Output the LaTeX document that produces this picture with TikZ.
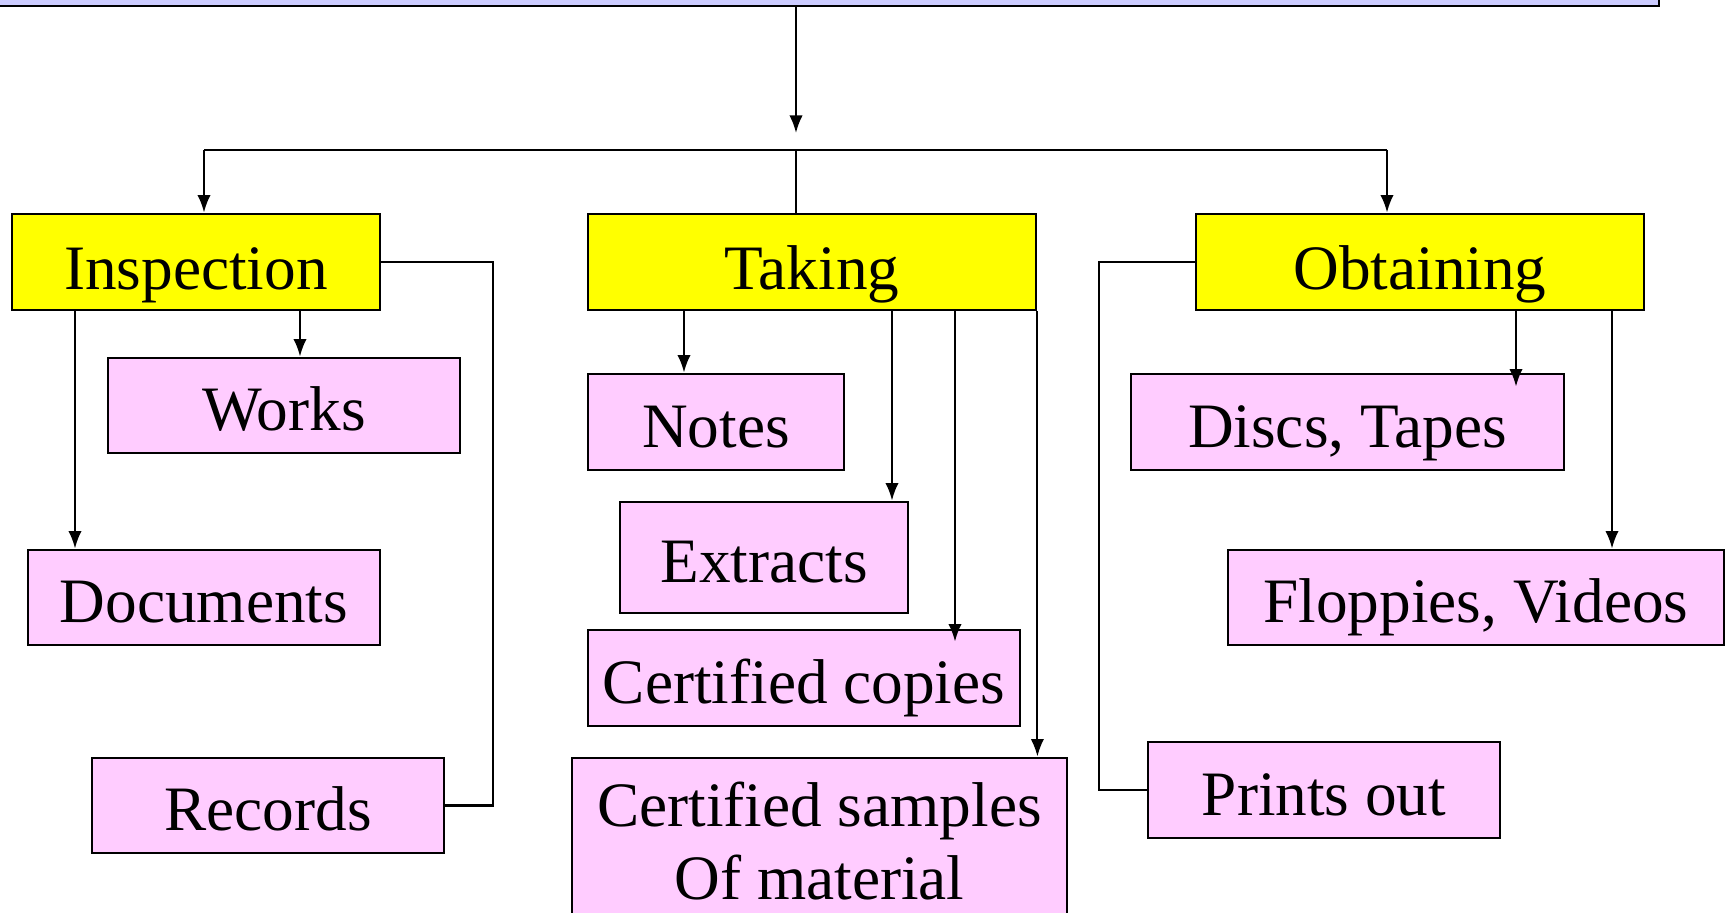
\documentclass[tikz,border=0pt]{standalone}
\usepackage{fontspec}
\setmainfont{Liberation Serif}
\usepackage{xcolor}
\usepackage{tikz}
\usetikzlibrary{arrows.meta, positioning, calc}
\definecolor{headblue}{RGB}{204,204,255}
\definecolor{modeyellow}{RGB}{255,255,0}
\definecolor{itempink}{RGB}{255,204,255}

\begin{document}
\begin{tikzpicture}[
  font=\fontsize{18}{21}\selectfont,
  box/.style={rectangle, draw=black, line width=0.8pt, inner sep=0pt, minimum height=0.96cm},
  mode/.style={box, fill=modeyellow, minimum width=4.48cm, text height=15.4pt, text depth=0pt},
  plate/.style={box, fill=itempink},
  item/.style={plate, text height=14.5pt, text depth=0pt},
  link/.style={line width=0.6pt},
  arr/.style={link, -{Latex[length=5pt, width=3.8pt]}}
]
  \useasboundingbox (0,0) rectangle (17.29,-9.13);

  \node[box, fill=headblue, minimum width=16.79cm, minimum height=1.06cm] (head) at (8.195,0.47) {};

  \node[mode, minimum width=3.68cm] (insp) at (1.96,-2.62) {Inspection};
  \node[mode] (taking) at (8.12,-2.62) {Taking};
  \node[mode] (obt) at (14.20,-2.62) {Obtaining};

  \node[item, minimum width=3.52cm, minimum height=0.95cm] (works) at (2.84,-4.055) {Works};
  \node[item, minimum width=3.52cm, minimum height=0.95cm] (docs) at (2.04,-5.975) {Documents};
  \node[item, minimum width=3.52cm, minimum height=0.95cm] (recs) at (2.68,-8.055) {Records};

  \node[item, minimum width=2.56cm] (notes) at (7.16,-4.22) {Notes};
  \node[item, minimum width=2.88cm, minimum height=1.11cm] (extr) at (7.64,-5.575) {Extracts};
  \node[item, minimum width=4.32cm] (ccop) at (8.04,-6.78) {Certified copies};
  \node[plate, minimum width=4.95cm, minimum height=1.66cm, align=center] (csamp) at (8.195,-8.41)
    {Certified samples\\Of material};

  \node[item, minimum width=4.33cm] (discs) at (13.475,-4.22) {Discs, Tapes};
  \node[item, minimum width=4.96cm, minimum height=0.95cm] (flop) at (14.76,-5.975) {Floppies, Videos};
  \node[item, minimum width=3.52cm] (prints) at (13.24,-7.90) {Prints out};

  % trunk and bus
  \coordinate (hub) at (7.96,-1.33);
  \coordinate (bus) at (7.96,-1.50);
  \coordinate (busL) at (2.04,-1.50);
  \coordinate (busR) at (13.87,-1.50);
  \draw[arr] (head.south -| hub) -- (hub);
  \draw[link] (busL) -- (busR);
  \draw[link] (bus) -- (taking.north -| bus);
  \draw[arr] (busL) -- (insp.north -| busL);
  \draw[arr] (busR) -- (obt.north -| busR);

  % inspection
  \draw[arr] (insp.south -| 3.00,0) -- (works.north -| 3.00,0);
  \draw[arr] (insp.south -| 0.75,0) -- (docs.north -| 0.75,0);
  \draw[link] (insp.east) -- ++(1.12,0) |- (recs.east);

  % taking
  \draw[arr] (taking.south -| 6.84,0) -- (notes.north -| 6.84,0);
  \draw[arr] (taking.south -| 8.92,0) -- (extr.north -| 8.92,0);
  \draw[arr] (taking.south -| 9.55,0) -- ($(ccop.north -| 9.55,0)+(0,-0.13)$);
  \draw[arr] (taking.south east) -- (taking.south east |- csamp.north);

  % obtaining
  \draw[arr] (obt.south -| 15.16,0) -- ($(discs.north -| 15.16,0)+(0,-0.14)$);
  \draw[arr] (obt.south -| 16.12,0) -- (flop.north -| 16.12,0);
  \draw[link] (obt.west) -- ++(-0.96,0) |- (prints.west);
\end{tikzpicture}
\end{document}
